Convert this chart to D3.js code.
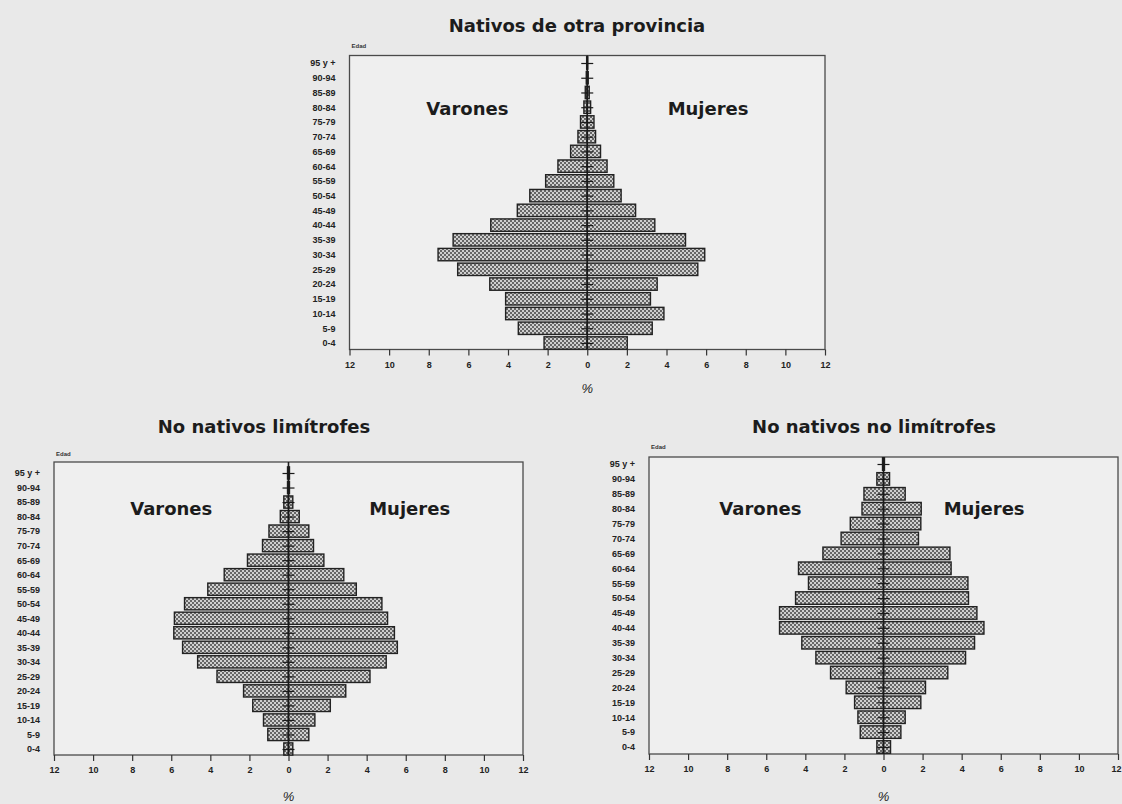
<!DOCTYPE html>
<html>
<head>
<meta charset="utf-8">
<script src="https://cdn.jsdelivr.net/npm/d3@7"></script>
<style>
  body { margin: 0; background: #e9e9e9; }
  svg { display: block; }
</style>
</head>
<body>
<div id="chart"></div>
<script>
// age groups, youngest first
const ageGroups = ["0-4", "5-9", "10-14", "15-19", "20-24", "25-29", "30-34", "35-39", "40-44", "45-49",
  "50-54", "55-59", "60-64", "65-69", "70-74", "75-79", "80-84", "85-89", "90-94", "95 y +"];
const xTicks = [-12, -10, -8, -6, -4, -2, 0, 2, 4, 6, 8, 10, 12];

// % of each group, same order as ageGroups
const otraProvVarones = [2.18, 3.48, 4.12, 4.12, 4.92, 6.54, 7.53, 6.77, 4.87, 3.53, 2.9, 2.1, 1.48, 0.84, 0.47, 0.34, 0.17, 0.1, 0.05, 0.03];
const otraProvMujeres = [2.02, 3.28, 3.87, 3.19, 3.53, 5.58, 5.93, 4.96, 3.41, 2.44, 1.71, 1.34, 1.0, 0.67, 0.42, 0.34, 0.17, 0.1, 0.05, 0.03];

const limitrofesVarones = [0.24, 1.06, 1.28, 1.83, 2.3, 3.66, 4.65, 5.42, 5.87, 5.84, 5.32, 4.13, 3.29, 2.1, 1.33, 1.0, 0.42, 0.24, 0.05, 0.05];
const limitrofesMujeres = [0.22, 1.04, 1.35, 2.14, 2.93, 4.17, 5.0, 5.57, 5.42, 5.07, 4.78, 3.47, 2.83, 1.81, 1.28, 1.04, 0.55, 0.22, 0.05, 0.05];

const noLimitrofesVarones = [0.34, 1.19, 1.31, 1.48, 1.91, 2.71, 3.46, 4.18, 5.32, 5.32, 4.5, 3.84, 4.35, 3.1, 2.17, 1.7, 1.1, 1.0, 0.34, 0.05];
const noLimitrofesMujeres = [0.36, 0.89, 1.11, 1.91, 2.15, 3.29, 4.2, 4.66, 5.14, 4.78, 4.35, 4.32, 3.46, 3.4, 1.79, 1.91, 1.93, 1.11, 0.31, 0.05];

const charts = [
  { title: "Nativos de otra provincia", varones: otraProvVarones, mujeres: otraProvMujeres,
    frame: { left: 349.5, right: 825, top: 55.5, bottom: 349.5 }, rows: [63, 343],
    titleX: 577, titleY: 32, sexY: 115, sexX: [-6.05, 6.1], pctY: 393, edadY: 48 },
  { title: "No nativos limítrofes", varones: limitrofesVarones, mujeres: limitrofesMujeres,
    frame: { left: 54, right: 523, top: 462, bottom: 755 }, rows: [473, 749],
    titleX: 264, titleY: 433, sexY: 515, sexX: [-6.0, 6.2], pctY: 801, edadY: 456 },
  { title: "No nativos no limítrofes", varones: noLimitrofesVarones, mujeres: noLimitrofesMujeres,
    frame: { left: 649, right: 1118, top: 457, bottom: 754 }, rows: [464, 747],
    titleX: 874, titleY: 433, sexY: 515, sexX: [-6.3, 5.15], pctY: 801, edadY: 449 }
];

const svg = d3.select("#chart")
  .append("svg")
  .attr("width", 1122)
  .attr("height", 804);

// dotted grey fill of the bars
const pattern = svg.append("defs")
  .append("pattern")
  .attr("id", "dots")
  .attr("patternUnits", "userSpaceOnUse")
  .attr("width", 4)
  .attr("height", 4);
pattern.append("rect").attr("width", 4).attr("height", 4).attr("fill", "#666");
pattern.append("rect").attr("x", 0).attr("y", 0).attr("width", 2).attr("height", 2).attr("fill", "#cfcfcf");
pattern.append("rect").attr("x", 2).attr("y", 2).attr("width", 2).attr("height", 2).attr("fill", "#cfcfcf");

charts.forEach(drawPyramid);

function drawPyramid(c) {
  const f = c.frame;
  const g = svg.append("g");

  const x = d3.scaleLinear().domain([-12, 12]).range([f.left, f.right]);
  const y = d3.scalePoint().domain(ageGroups.slice().reverse()).range(c.rows);
  const barH = y.step() * 0.84;

  g.append("rect")
    .attr("x", f.left).attr("y", f.top)
    .attr("width", f.right - f.left).attr("height", f.bottom - f.top)
    .attr("fill", "#efefef")
    .attr("stroke", "#4a4a4a")
    .attr("stroke-width", 1.3);

  g.append("text")
    .attr("x", c.titleX).attr("y", c.titleY)
    .attr("text-anchor", "middle")
    .style("font", "bold 18px 'DejaVu Sans'")
    .attr("fill", "#1c1c1c")
    .text(c.title);

  g.append("text")
    .attr("x", f.left + 2).attr("y", c.edadY)
    .style("font", "bold 6px 'Liberation Sans'")
    .attr("fill", "#333")
    .text("Edad");

  const rows = ageGroups.map((a, i) => ({ age: a, v: c.varones[i], m: c.mujeres[i] }));

  g.selectAll(".varon")
    .data(rows)
    .enter()
    .append("rect")
    .attr("class", "varon")
    .attr("x", d => x(-d.v))
    .attr("y", d => y(d.age) - barH / 2)
    .attr("width", d => x(0) - x(-d.v))
    .attr("height", barH)
    .attr("fill", "url(#dots)")
    .attr("stroke", "#222")
    .attr("stroke-width", 1.4);

  g.selectAll(".mujer")
    .data(rows)
    .enter()
    .append("rect")
    .attr("class", "mujer")
    .attr("x", x(0))
    .attr("y", d => y(d.age) - barH / 2)
    .attr("width", d => x(d.m) - x(0))
    .attr("height", barH)
    .attr("fill", "url(#dots)")
    .attr("stroke", "#222")
    .attr("stroke-width", 1.4);

  // centre line with small ticks on both sides
  g.append("line")
    .attr("x1", x(0)).attr("x2", x(0))
    .attr("y1", f.top).attr("y2", f.bottom)
    .attr("stroke", "#1a1a1a")
    .attr("stroke-width", 1.6);

  [d3.axisLeft(y), d3.axisRight(y)].forEach(ax => {
    g.append("g")
      .attr("transform", `translate(${x(0)},0)`)
      .call(ax.tickSize(6).tickSizeOuter(0).tickFormat(""))
      .call(s => s.select(".domain").remove())
      .call(s => s.selectAll("line").attr("stroke", "#1a1a1a").attr("stroke-width", 1.2));
  });

  // age labels
  g.append("g")
    .attr("transform", `translate(${f.left},0)`)
    .call(d3.axisLeft(y).tickSize(0).tickPadding(14))
    .call(s => s.select(".domain").remove())
    .call(s => s.selectAll("text")
      .style("font", "bold 9px 'Liberation Sans'")
      .attr("fill", "#222"));

  g.append("g")
    .attr("transform", `translate(0,${f.bottom})`)
    .call(d3.axisBottom(x).tickValues(xTicks).tickSize(6).tickPadding(6).tickFormat(d => Math.abs(d)))
    .call(s => s.select(".domain").remove())
    .call(s => s.selectAll("line").attr("stroke", "#333").attr("stroke-width", 1.2))
    .call(s => s.selectAll("text")
      .style("font", "bold 9px 'Liberation Sans'")
      .attr("fill", "#222")
      // keep the last label inside the page
      .attr("text-anchor", d => x(d) + 6 > 1122 ? "end" : "middle")
      .attr("dx", d => x(d) + 6 > 1122 ? 3 : 0));

  g.append("text")
    .attr("x", x(0)).attr("y", c.pctY)
    .attr("text-anchor", "middle")
    .style("font", "italic 13px 'Liberation Sans'")
    .attr("fill", "#222")
    .text("%");

  g.append("text")
    .attr("x", x(c.sexX[0])).attr("y", c.sexY)
    .attr("text-anchor", "middle")
    .style("font", "bold 18px 'DejaVu Sans'")
    .attr("fill", "#1c1c1c")
    .text("Varones");

  g.append("text")
    .attr("x", x(c.sexX[1])).attr("y", c.sexY)
    .attr("text-anchor", "middle")
    .style("font", "bold 18px 'DejaVu Sans'")
    .attr("fill", "#1c1c1c")
    .text("Mujeres");
}
</script>
</body>
</html>
